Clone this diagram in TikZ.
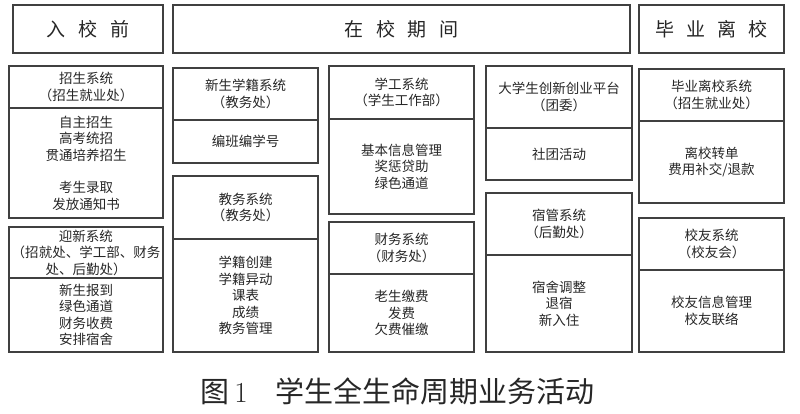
\documentclass[tikz,border=0pt]{standalone}
\usepackage{fontspec}
\newfontfamily\cjk{Noto Sans CJK SC}
\tikzset{
  headbox/.style={draw=black!75, line width=1.1pt, anchor=north west, outer sep=0pt, minimum height=48pt, text=black!85, font=\cjk\fontsize{19}{22}\selectfont},
  sysbox/.style={draw=black!75, line width=1.1pt, anchor=north west, outer sep=0pt, inner sep=0pt, align=center, text=black!85, font=\cjk\fontsize{13.5}{16.5}\selectfont},
}
\begin{document}
\begin{tikzpicture}[x=1pt,y=-1pt]
    \useasboundingbox (0,0) rectangle (800,414);

    % Stages
    \node[headbox, minimum width=150pt] (before) at (13,5) {入\hspace{13pt}校\hspace{13pt}前};
    \node[headbox, minimum width=457pt] (during) at (173,5) {在\hspace{13pt}校\hspace{13pt}期\hspace{13pt}间};
    \node[headbox, minimum width=145pt] (after) at (639,5) {毕\hspace{12pt}业\hspace{12pt}离\hspace{12pt}校};

    % Column 1
    \node[sysbox, minimum width=154pt, minimum height=42pt] (recruitT) at (9,66) {招生系统\\（招生就业处）};
    \node[sysbox, minimum width=154pt, minimum height=110pt] (recruitB) at (recruitT.south west) {自主招生\\高考统招\\贯通培养招生\\[16pt]考生录取\\发放通知书};
    \node[sysbox, minimum width=154pt, minimum height=51pt] (welcomeT) at (9,227) {迎新系统\\（招就处、学工部、财务\\处、后勤处）};
    \node[sysbox, minimum width=154pt, minimum height=74pt] (welcomeB) at (welcomeT.south west) {新生报到\\绿色通道\\财务收费\\安排宿舍};

    % Column 2
    \node[sysbox, minimum width=145pt, minimum height=52pt] (rollT) at (173,68) {新生学籍系统\\（教务处）};
    \node[sysbox, minimum width=145pt, minimum height=43pt] (rollB) at (rollT.south west) {编班编学号};
    \node[sysbox, minimum width=145pt, minimum height=63pt] (academicT) at (173,176) {教务系统\\（教务处）};
    \node[sysbox, minimum width=145pt, minimum height=113pt] (academicB) at (academicT.south west) {学籍创建\\学籍异动\\课表\\成绩\\教务管理};

    % Column 3
    \node[sysbox, minimum width=145pt, minimum height=53pt] (affairsT) at (329,66) {学工系统\\（学生工作部）};
    \node[sysbox, minimum width=145pt, minimum height=95pt] (affairsB) at (affairsT.south west) {基本信息管理\\奖惩贷助\\绿色通道};
    \node[sysbox, minimum width=145pt, minimum height=52pt] (financeT) at (329,222) {财务系统\\（财务处）};
    \node[sysbox, minimum width=145pt, minimum height=78pt] (financeB) at (financeT.south west) {老生缴费\\发费\\欠费催缴};

    % Column 4
    \node[sysbox, minimum width=146pt, minimum height=62pt] (clubT) at (486,66) {大学生创新创业平台\\（团委）};
    \node[sysbox, minimum width=146pt, minimum height=52pt] (clubB) at (clubT.south west) {社团活动};
    \node[sysbox, minimum width=146pt, minimum height=62pt] (dormT) at (486,193) {宿管系统\\（后勤处）};
    \node[sysbox, minimum width=146pt, minimum height=97pt] (dormB) at (dormT.south west) {宿舍调整\\退宿\\新入住};

    % Column 5
    \node[sysbox, minimum width=145pt, minimum height=52pt] (leaveT) at (639,69) {毕业离校系统\\（招生就业处）};
    \node[sysbox, minimum width=145pt, minimum height=82pt] (leaveB) at (leaveT.south west) {离校转单\\费用补交/退款};
    \node[sysbox, minimum width=145pt, minimum height=52pt] (alumniT) at (639,218) {校友系统\\（校友会）};
    \node[sysbox, minimum width=145pt, minimum height=82pt] (alumniB) at (alumniT.south west) {校友信息管理\\校友联络};

    % Caption
    \node[text=black!85, font=\cjk\fontsize{29}{32}\selectfont] (caption) at (397.5,391) {图\,{\rmfamily 1}\hspace{28pt}学生全生命周期业务活动};

\end{tikzpicture}
\end{document}
